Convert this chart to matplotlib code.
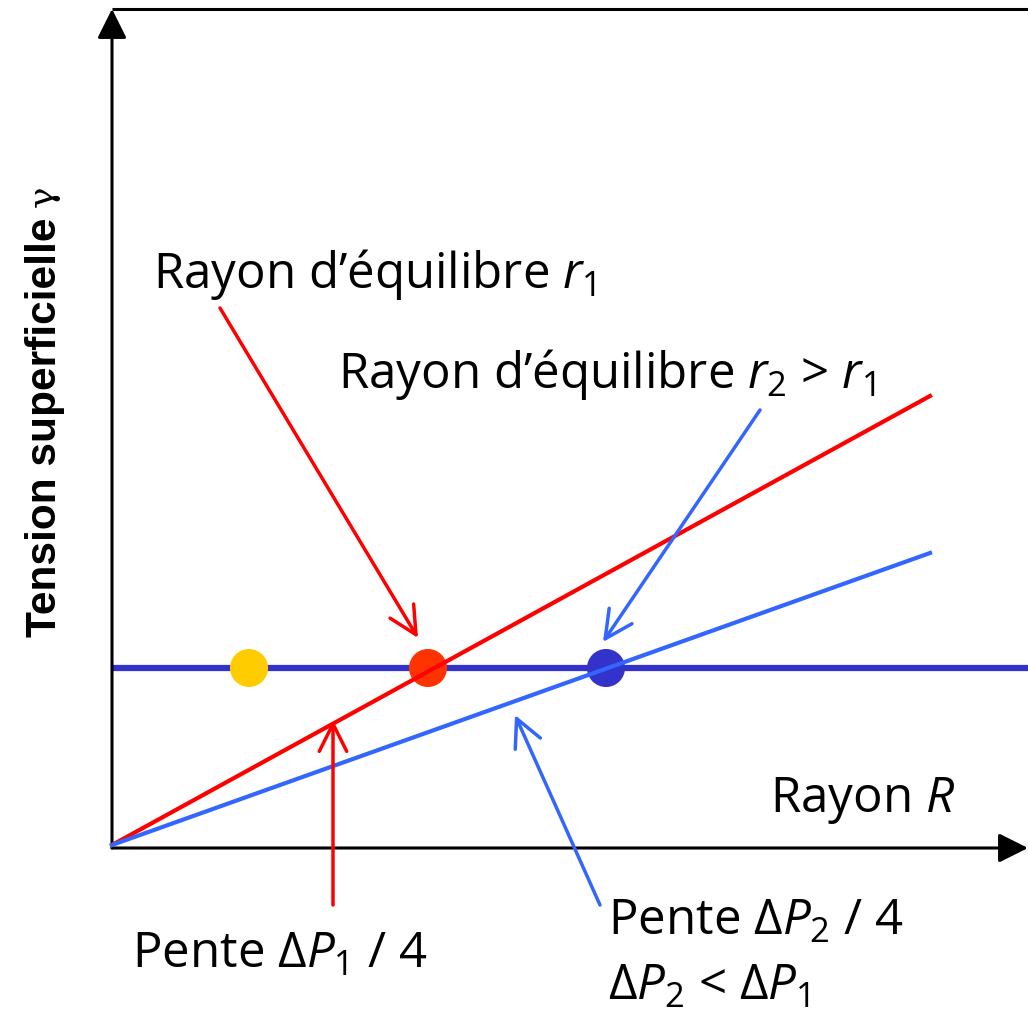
import matplotlib
matplotlib.use('Agg')
import matplotlib.pyplot as plt

# data (units ~ pixels from the origin)
gamma_eq = 177
dots_R = [137, 316, 494]
dots_colors = ['#FFCC00', '#FF3300', '#3333CC']
line_R = [0, 818]
red_gamma = [0, 449]
blue_gamma = [0, 292]

plt.rcParams['mathtext.fontset'] = 'custom'
plt.rcParams['mathtext.rm'] = 'Open Sans'
plt.rcParams['mathtext.it'] = 'Open Sans:italic'
plt.rcParams['font.family'] = ['Open Sans', 'DejaVu Sans']

fig = plt.figure(figsize=(10.28, 10.14), dpi=100)
ax = fig.add_axes([0, 0, 1, 1])
ax.set_xlim(-112, 916)
ax.set_ylim(-169, 845)
ax.axis('off')

# axes frame
head = '-|>,head_length=0.9,head_width=0.45'
ax.annotate('', xy=(0, 836), xytext=(0, -3),
            arrowprops=dict(arrowstyle=head, color='black',
                            lw=2.2, mutation_scale=20, shrinkA=0, shrinkB=0))
ax.annotate('', xy=(916, -3), xytext=(0, -3),
            arrowprops=dict(arrowstyle=head, color='black',
                            lw=2.2, mutation_scale=20, shrinkA=0, shrinkB=0))
ax.plot([0, 916], [836, 836], color='black', lw=2.2, solid_capstyle='butt')

# equilibrium line and slopes
ax.plot([0, 916], [gamma_eq, gamma_eq], color='#3333CC', lw=4.5, solid_capstyle='butt', zorder=2)
ax.plot(line_R, red_gamma, color='#FF0000', lw=3, zorder=3)
ax.plot(line_R, blue_gamma, color='#3366FF', lw=3, zorder=3)
for r, c in zip(dots_R, dots_colors):
    ax.scatter([r], [gamma_eq], s=750, color=c, zorder=2.5, edgecolors='none')

fs = 35.5
ax.text(41, 557, r'Rayon d’équilibre $r_1$', fontsize=fs, va='baseline')
ax.text(226, 457, r'Rayon d’équilibre $r_2$ > $r_1$', fontsize=fs, va='baseline')
ax.text(658, 33, r'Rayon $R$', fontsize=fs, va='baseline')
ax.text(20, -123, r'Pente $\Delta P_1$ / 4', fontsize=fs, va='baseline')
ax.text(496, -90, r'Pente $\Delta P_2$ / 4', fontsize=fs, va='baseline')
ax.text(496, -155, r'$\Delta P_2$ < $\Delta P_1$', fontsize=fs, va='baseline')

# y label
ax.text(-67, 208, 'Tension superficielle', rotation=90, fontsize=30.5, fontweight='bold',
        family='Liberation Sans', ha='center', va='bottom')
ax.text(-69, 638, 'γ', rotation=90, fontsize=26, family='DejaVu Serif',
        ha='center', va='bottom')

arrow = dict(arrowstyle='->,head_length=0.9,head_width=0.45', lw=2.5,
             mutation_scale=22, shrinkA=0, shrinkB=0)
ax.annotate('', xy=(306, 207), xytext=(108, 537), arrowprops=dict(arrow, color='#FF0000'))
ax.annotate('', xy=(221, 125), xytext=(221, -60), arrowprops=dict(arrow, color='#FF0000'))
ax.annotate('', xy=(491, 203), xytext=(648, 435), arrowprops=dict(arrow, color='#3366FF'))
ax.annotate('', xy=(403, 130), xytext=(488, -60), arrowprops=dict(arrow, color='#3366FF'))

fig.savefig('out.png', dpi=100)
